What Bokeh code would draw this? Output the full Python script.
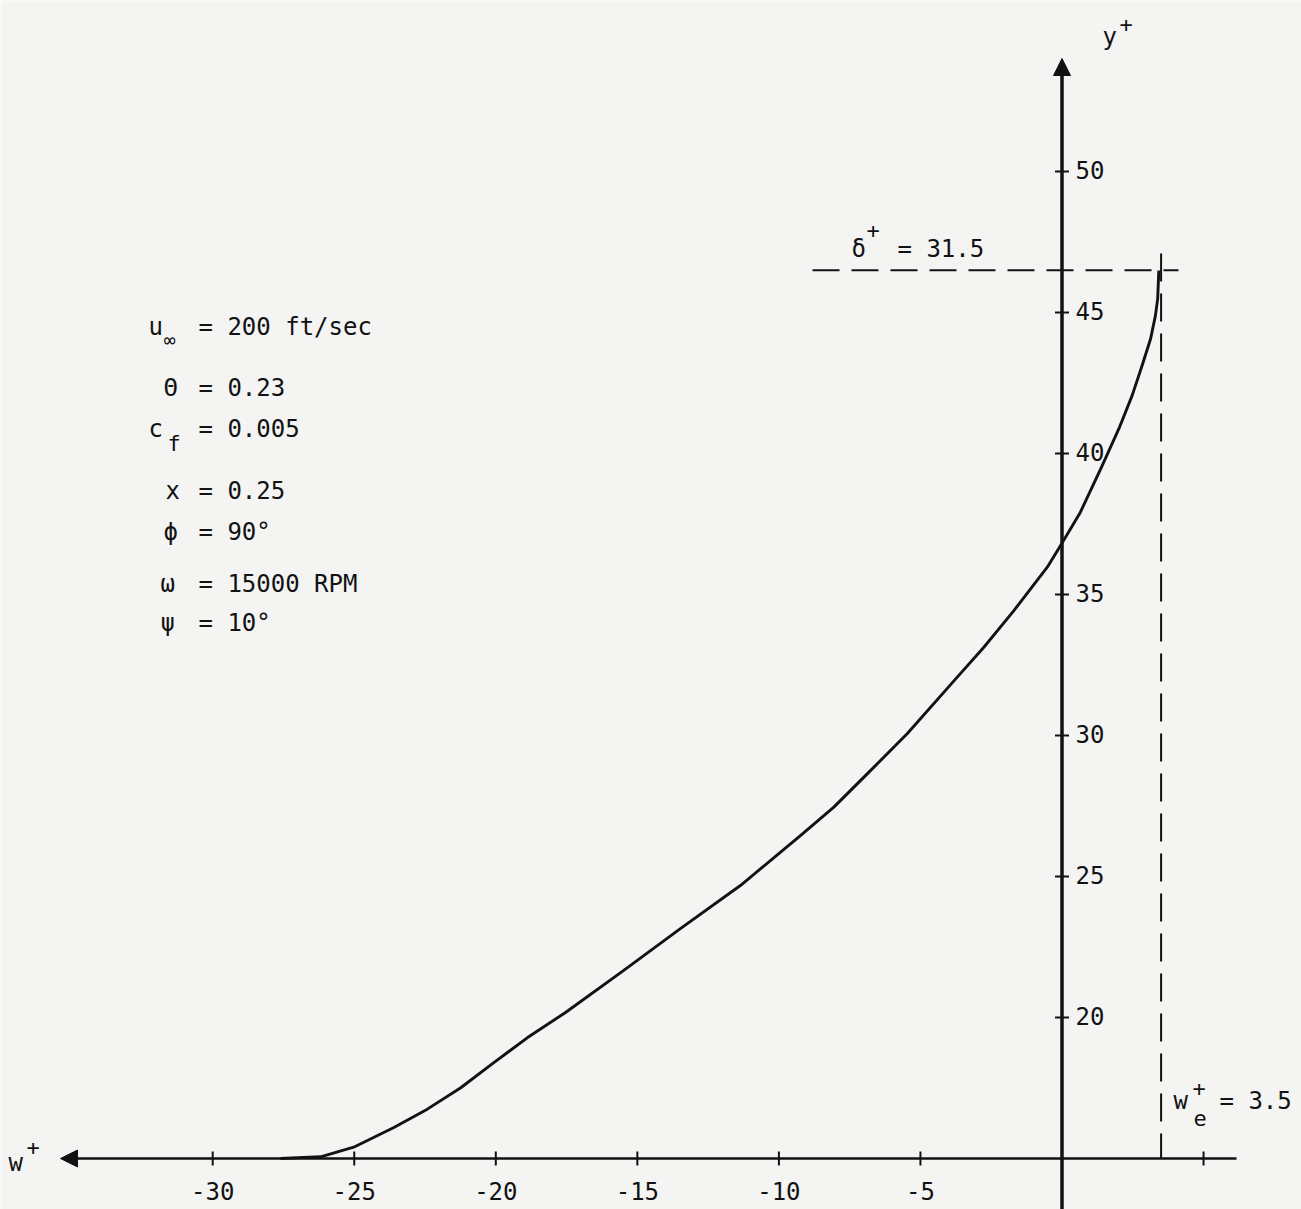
from bokeh.plotting import figure
from bokeh.models import Range1d, Arrow, NormalHead
from bokeh.core.properties import value
from bokeh.embed import file_html
from bokeh.resources import INLINE

# ---------------- data ----------------
w_plus = [-27.61, -26.19, -25.02, -23.60, -22.42, -21.25, -20.07, -18.89,
          -17.55, -15.48, -13.48, -11.36, -9.24, -8.06, -6.88,
          -5.47, -3.70, -2.76, -1.70, -0.52, -0.05, 0.65, 1.42, 2.01,
          2.48, 2.83, 3.13, 3.30, 3.38, 3.42]
y_plus = [15.00, 15.06, 15.40, 16.10, 16.75, 17.50, 18.40, 19.28,
          20.17, 21.67, 23.15, 24.68, 26.45, 27.46, 28.64,
          30.06, 32.07, 33.13, 34.43, 35.97, 36.74, 37.92, 39.57, 40.88,
          42.06, 43.12, 44.07, 44.89, 45.49, 46.49]

x_ticks = [-30, -25, -20, -15, -10, -5, 5]
x_tick_labels = ["-30", "-25", "-20", "-15", "-10", "-5", ""]
y_ticks = [20, 25, 30, 35, 40, 45, 50]
y_tick_labels = ["20", "25", "30", "35", "40", "45", "50"]

y_axis_origin = 15.0      # value of y at which the w+ axis is drawn
delta_plus = 31.5
we_plus = 3.5

param_symbols = ["u", "\u0398", "c", "x", "\u03d5", "\u03c9", "\u03c8"]
param_subscripts = ["\u221e", "", "f", "", "", "", ""]
param_values = ["= 200 ft/sec", "= 0.23", "= 0.005", "= 0.25", "= 90\u00b0",
                "= 15000 RPM", "= 10\u00b0"]

# ---------------- layout ----------------
W, H = 1301, 1209
X0_PX, XS = 1061.5, 28.31      # pixel of w+=0 and pixels per unit
Y0_PX, YS = 1158.0, 28.2       # pixel of the w+ axis and pixels per unit
BL = -10                       # baseline correction for alphabetic text (px)
ML = -2                        # correction for middle-aligned text (px)


def dx(px):
    return (px - X0_PX) / XS


def dy(py):
    return y_axis_origin + (Y0_PX - py) / YS


BG = "#f4f4f2"
INK = "#121212"
FONT = value("DejaVu Sans Mono")

p = figure(width=W, height=H,
           x_range=Range1d(dx(0), dx(W)),
           y_range=Range1d(dy(H), dy(0)),
           output_backend="svg", toolbar_location=None,
           x_axis_location=None, y_axis_location=None, min_border=0)
p.grid.visible = False
p.outline_line_color = None
p.background_fill_color = BG
p.border_fill_color = BG


def label(xpx, ypx, txt, size="24px", baseline="alphabetic", align="left"):
    off = BL if baseline == "alphabetic" else ML
    p.text(x=[dx(xpx)], y=[dy(ypx)], text=[txt], text_font=FONT,
           text_font_size=size, text_color=INK, text_baseline=baseline,
           text_align=align, y_offset=off)


# axes (drawn as arrows)
p.add_layout(Arrow(end=NormalHead(size=17, fill_color=INK, line_color=INK, line_width=1),
                   x_start=dx(1236), y_start=y_axis_origin,
                   x_end=dx(60), y_end=y_axis_origin,
                   line_color=INK, line_width=2.5))
p.add_layout(Arrow(end=NormalHead(size=17, fill_color=INK, line_color=INK, line_width=1),
                   x_start=0, y_start=dy(1215),
                   x_end=0, y_end=dy(58),
                   line_color=INK, line_width=3.5))

# tick marks
tx = 7 / XS
ty = 7 / YS
p.segment(x0=x_ticks, y0=[y_axis_origin - ty] * len(x_ticks),
          x1=x_ticks, y1=[y_axis_origin + ty] * len(x_ticks),
          line_color=INK, line_width=2)
p.segment(x0=[-tx] * len(y_ticks), y0=y_ticks, x1=[tx] * len(y_ticks), y1=y_ticks,
          line_color=INK, line_width=2)

# tick labels
p.text(x=x_ticks, y=[y_axis_origin] * len(x_ticks), text=x_tick_labels,
       text_font=FONT, text_font_size="24px", text_color=INK,
       text_align="center", text_baseline="alphabetic", y_offset=42 + BL)
p.text(x=[dx(1075)] * len(y_ticks), y=y_ticks, text=y_tick_labels,
       text_font=FONT, text_font_size="24px", text_color=INK,
       text_align="left", text_baseline="alphabetic", y_offset=8 + BL)

# boundary-layer edge lines
y_edge = y_axis_origin + delta_plus
p.line(x=[dx(812), dx(1178)], y=[y_edge, y_edge], line_color=INK,
       line_width=2, line_dash="27 12")
p.line(x=[we_plus, we_plus], y=[dy(253), y_axis_origin], line_color=INK,
       line_width=2, line_dash="28 12")

# profile curve
p.line(x=w_plus, y=y_plus, line_color=INK, line_width=2.9, line_join="round")

# axis titles
label(1102, 46, "y")
label(1119, 25, "+", size="22px", baseline="middle")
label(8, 1172, "w")
label(26, 1148, "+", size="22px", baseline="middle")

# delta+ label
label(851, 258, "\u03b4")
label(866, 231, "+", size="22px", baseline="middle")
label(897, 258, f"= {delta_plus}")

# w_e+ label
label(1173, 1110, "w")
label(1192, 1089, "+", size="22px", baseline="middle")
label(1193, 1127, "e", size="22px")
label(1219, 1110, f"= {we_plus}")

# parameter block
sym_x_px = [148, 163, 148, 165, 163, 160, 160]
base_px = [336, 397, 438, 500, 541, 593, 632]
sub_x_px = [163, 0, 167, 0, 0, 0, 0]
sub_base_px = [349, 0, 453, 0, 0, 0, 0]
sub_size = ["20px", "", "22px", "", "", "", ""]

p.text(x=[dx(v) for v in sym_x_px], y=[dy(v) for v in base_px], text=param_symbols,
       text_font=FONT, text_font_size="24px", text_color=INK,
       text_baseline="alphabetic", y_offset=BL)
p.text(x=[dx(198)] * len(param_values), y=[dy(v) for v in base_px], text=param_values,
       text_font=FONT, text_font_size="24px", text_color=INK,
       text_baseline="alphabetic", y_offset=BL)
for s, sx, sb, sz in zip(param_subscripts, sub_x_px, sub_base_px, sub_size):
    if s:
        label(sx, sb, s, size=sz)

open("out.html", "w").write(file_html(p, INLINE))
